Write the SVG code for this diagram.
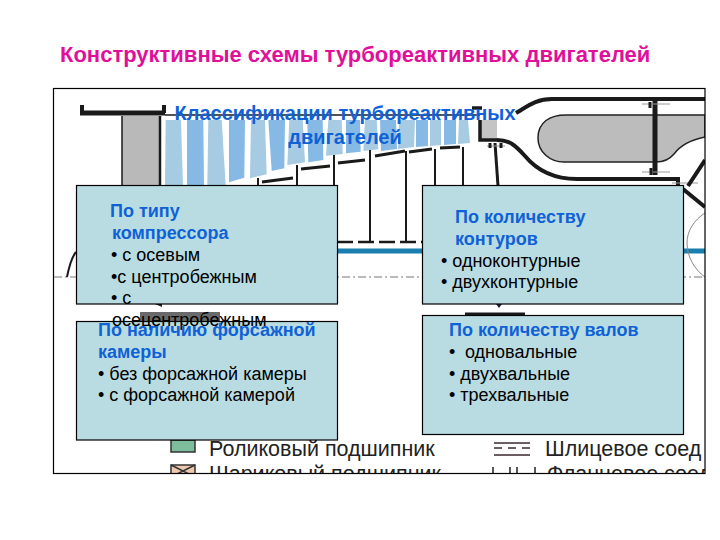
<svg xmlns="http://www.w3.org/2000/svg" width="720" height="540" viewBox="0 0 720 540">
<style>
text{font-family:"Liberation Sans",Arial,sans-serif}
.title{font-size:22px;font-weight:bold;fill:#e0109a}
.head{font-size:20px;font-weight:bold;fill:#0f62d6;text-anchor:middle}
.h{font-size:18px;font-weight:bold;fill:#0f62d6}
.b{font-size:18px;fill:#000}
.box{fill:#b9dce2;stroke:#000;stroke-width:1.2}
.lt{fill:#a6cbe2}
.dk{fill:#86bae4}
.k{fill:none;stroke:#1a1a1a;stroke-linecap:butt}
.leg{font-size:21.5px;fill:#222}
</style>
<defs><clipPath id="fc"><rect x="54" y="89" width="651" height="384"/></clipPath></defs>
<rect width="720" height="540" fill="#fff"/>
<g id="engine" clip-path="url(#fc)">
<g id="blades">
<polygon class="lt" points="165.7,120 181,120 183,186 165,186"/>
<polygon class="dk" points="187,120 203.3,120 204,186 187,186"/>
<polygon class="lt" points="208.3,120 221.7,120 225.7,186 207.3,186"/>
<polygon class="dk" points="229,120 245,120 244.3,177.7 229,182.3"/>
<polygon class="lt" points="251,120 265,120 266.7,174.3 250,178.3"/>
<polygon class="dk" points="268.3,120 285,120 284.3,168.3 271.7,171"/>
<polygon class="lt" points="289.3,120 302.7,120 305,162.3 287.3,165"/>
<polygon class="dk" points="307.3,120 322.7,120 323.3,160 308.3,162.3"/>
<polygon class="lt" points="328.3,120 341.7,120 342.7,154 326,155.7"/>
<polygon class="dk" points="346,120 360,120 360.7,151.7 346,153.3"/>
<polygon class="lt" points="365,120 376.7,120 378.3,149.3 363.3,151"/>
<polygon class="dk" points="380,120 396,120 397,149 381,151"/>
<polygon class="lt" points="399,120 415,120 414,147 398,149"/>
<polygon class="dk" points="416,120 428,120 428,146 416,147"/>
<polygon class="lt" points="430,120 441,120 441,145 430,146"/>
<polygon class="dk" points="444,120 456,120 456,144 444,145"/>
<polygon class="lt" points="459,120 468,120 470,143 458,144"/>
</g>
<rect x="122" y="116" width="38" height="70" fill="#b9b9b9"/>
<rect x="480" y="120" width="17" height="20" fill="#c4c4c4"/>
<path d="M538 138C538 122 550 115 566 115H705V137C690 140 680 146 674 154C669 160 664 162 656 162H564C550 162 538 152 538 138Z" fill="#bcbcbc" stroke="#222" stroke-width="1.5"/>
<g id="lines">
<path class="k" stroke-width="5" d="M80 113H165"/>
<path class="k" stroke-width="4" d="M82 105V112M164 105V113"/>
<path class="k" stroke-width="1.5" d="M165 115H480"/>
<path class="k" stroke-width="1.5" d="M122 116V186"/>
<path class="k" stroke-width="2.5" d="M160 116V186"/>
<path class="k" stroke-width="3.5" d="M480 120V140H497M472 108H482"/>
<path class="k" stroke-width="4" d="M516 113C528 106 536 99 552 99H705"/>
<path class="k" stroke-width="4" d="M497 140C510 140 516 146 525 156C535 168 552 179 577 179H678V186"/>
<path class="k" stroke-width="3" d="M495 143L498 186"/>
<path class="k" stroke-width="5" d="M655 100V175"/>
<path fill="none" stroke="#999" stroke-width="1" d="M642 104H670M642 172H670M487 146H505M672 183H698"/>
<path class="k" stroke-width="4" d="M688 186L705 160M683 189L705 207"/>
<path class="k" stroke-width="3" d="M650 102V108M651 168V175M490 143V148M501 143V148"/>
<path class="k" stroke-width="2" d="M258 178V186M297 165V186M334 155V186M370 150V242M406 151V242M435 149V186M463 147V186"/>
<path class="k" stroke-width="3" d="M262 182L293 178M301 169L330 166M338 163L365 160M375 156L405 151M409 152L432 149M440 148L460 147"/>
<path class="k" stroke-width="2.5" stroke-dasharray="16 5" d="M337 242H422"/>
<path d="M337 251H422M683 251H705" fill="none" stroke="#1a7fae" stroke-width="5"/>
<path d="M54 277H705" fill="none" stroke="#777" stroke-width="1.2" stroke-dasharray="8 3 2 3"/>
<path d="M705 213C694 220 687 231 687 243C687 257 695 270 705 277" fill="none" stroke="#888" stroke-width="1"/>
<path class="k" stroke-width="2" d="M76 252C71 258 69 267 67 277"/>
<path d="M155 304L162 307V304Z" fill="#222"/>
<path d="M496 304H502L499 308Z" fill="#223"/>
<rect x="140" y="312" width="80" height="10" fill="#6a6a6a"/>
<path class="k" stroke-width="3" d="M465 314H525"/>
</g>
<g id="legend">
<rect x="171" y="440" width="24" height="12" fill="#7dbd9c" stroke="#333" stroke-width="1.5"/>
<text class="leg" x="209" y="456">Роликовый подшипник</text>
<path d="M494 443H530M494 448H502M508 448H516M522 448H530M494 455H530" fill="none" stroke="#3a2a30" stroke-width="1.5"/>
<text class="leg" x="545" y="456">Шлицевое соед</text>
<rect x="171" y="465" width="24" height="12" fill="#efc8b0" stroke="#333" stroke-width="1.5"/>
<path d="M171 465L195 477M195 465L171 477" stroke="#333" stroke-width="1.5"/>
<text class="leg" x="209" y="481">Шариковый подшипник</text>
<path d="M493 467V473M510 467V473M517 467V473M535 467V473" stroke="#222" stroke-width="1.5"/>
<text class="leg" x="547" y="481">Фланцевое соед</text>
</g>
</g>
<rect id="frame" x="53.5" y="88.5" width="651.5" height="385" fill="none" stroke="#000" stroke-width="1.2"/>
<text id="title" class="title" x="60" y="62">Конструктивные схемы турбореактивных двигателей</text>
<g id="heading"><text class="head" x="345" y="120">Классификации турбореактивных</text><text class="head" x="345" y="144">двигателей</text></g>
<g id="box-compressor"><rect class="box" x="76.5" y="185.5" width="261" height="118.5"/></g>
<g id="box-afterburner"><rect class="box" x="76.5" y="321.5" width="261" height="118.5"/></g>
<g id="text-compressor">
<text class="h" x="110" y="217">По типу</text>
<text class="h" x="112" y="239">компрессора</text>
<text class="b" x="111" y="261">• с осевым</text>
<text class="b" x="111" y="283">•с центробежным</text>
<text class="b" x="111" y="304">• с</text>
<text class="b" x="112" y="326">осецентробежным</text>
</g>
<g id="text-afterburner">
<text class="h" x="98" y="336">По наличию форсажной</text>
<text class="h" x="98" y="358">камеры</text>
<text class="b" x="98" y="380">• без форсажной камеры</text>
<text class="b" x="98" y="401">• с форсажной камерой</text>
</g>
<g id="box-contours">
<rect class="box" x="422.5" y="185.5" width="261" height="118.5"/>
<text class="h" x="455" y="223">По количеству</text>
<text class="h" x="455" y="245">контуров</text>
<text class="b" x="441" y="267">• одноконтурные</text>
<text class="b" x="441" y="288">• двухконтурные</text>
</g>
<g id="box-shafts">
<rect class="box" x="422.5" y="315.5" width="261" height="119"/>
<text class="h" x="449" y="336">По количеству валов</text>
<text class="b" x="449" y="358">•<tspan x="465">одновальные</tspan></text>
<text class="b" x="449" y="380">• двухвальные</text>
<text class="b" x="449" y="401">• трехвальные</text>
</g>
</svg>
